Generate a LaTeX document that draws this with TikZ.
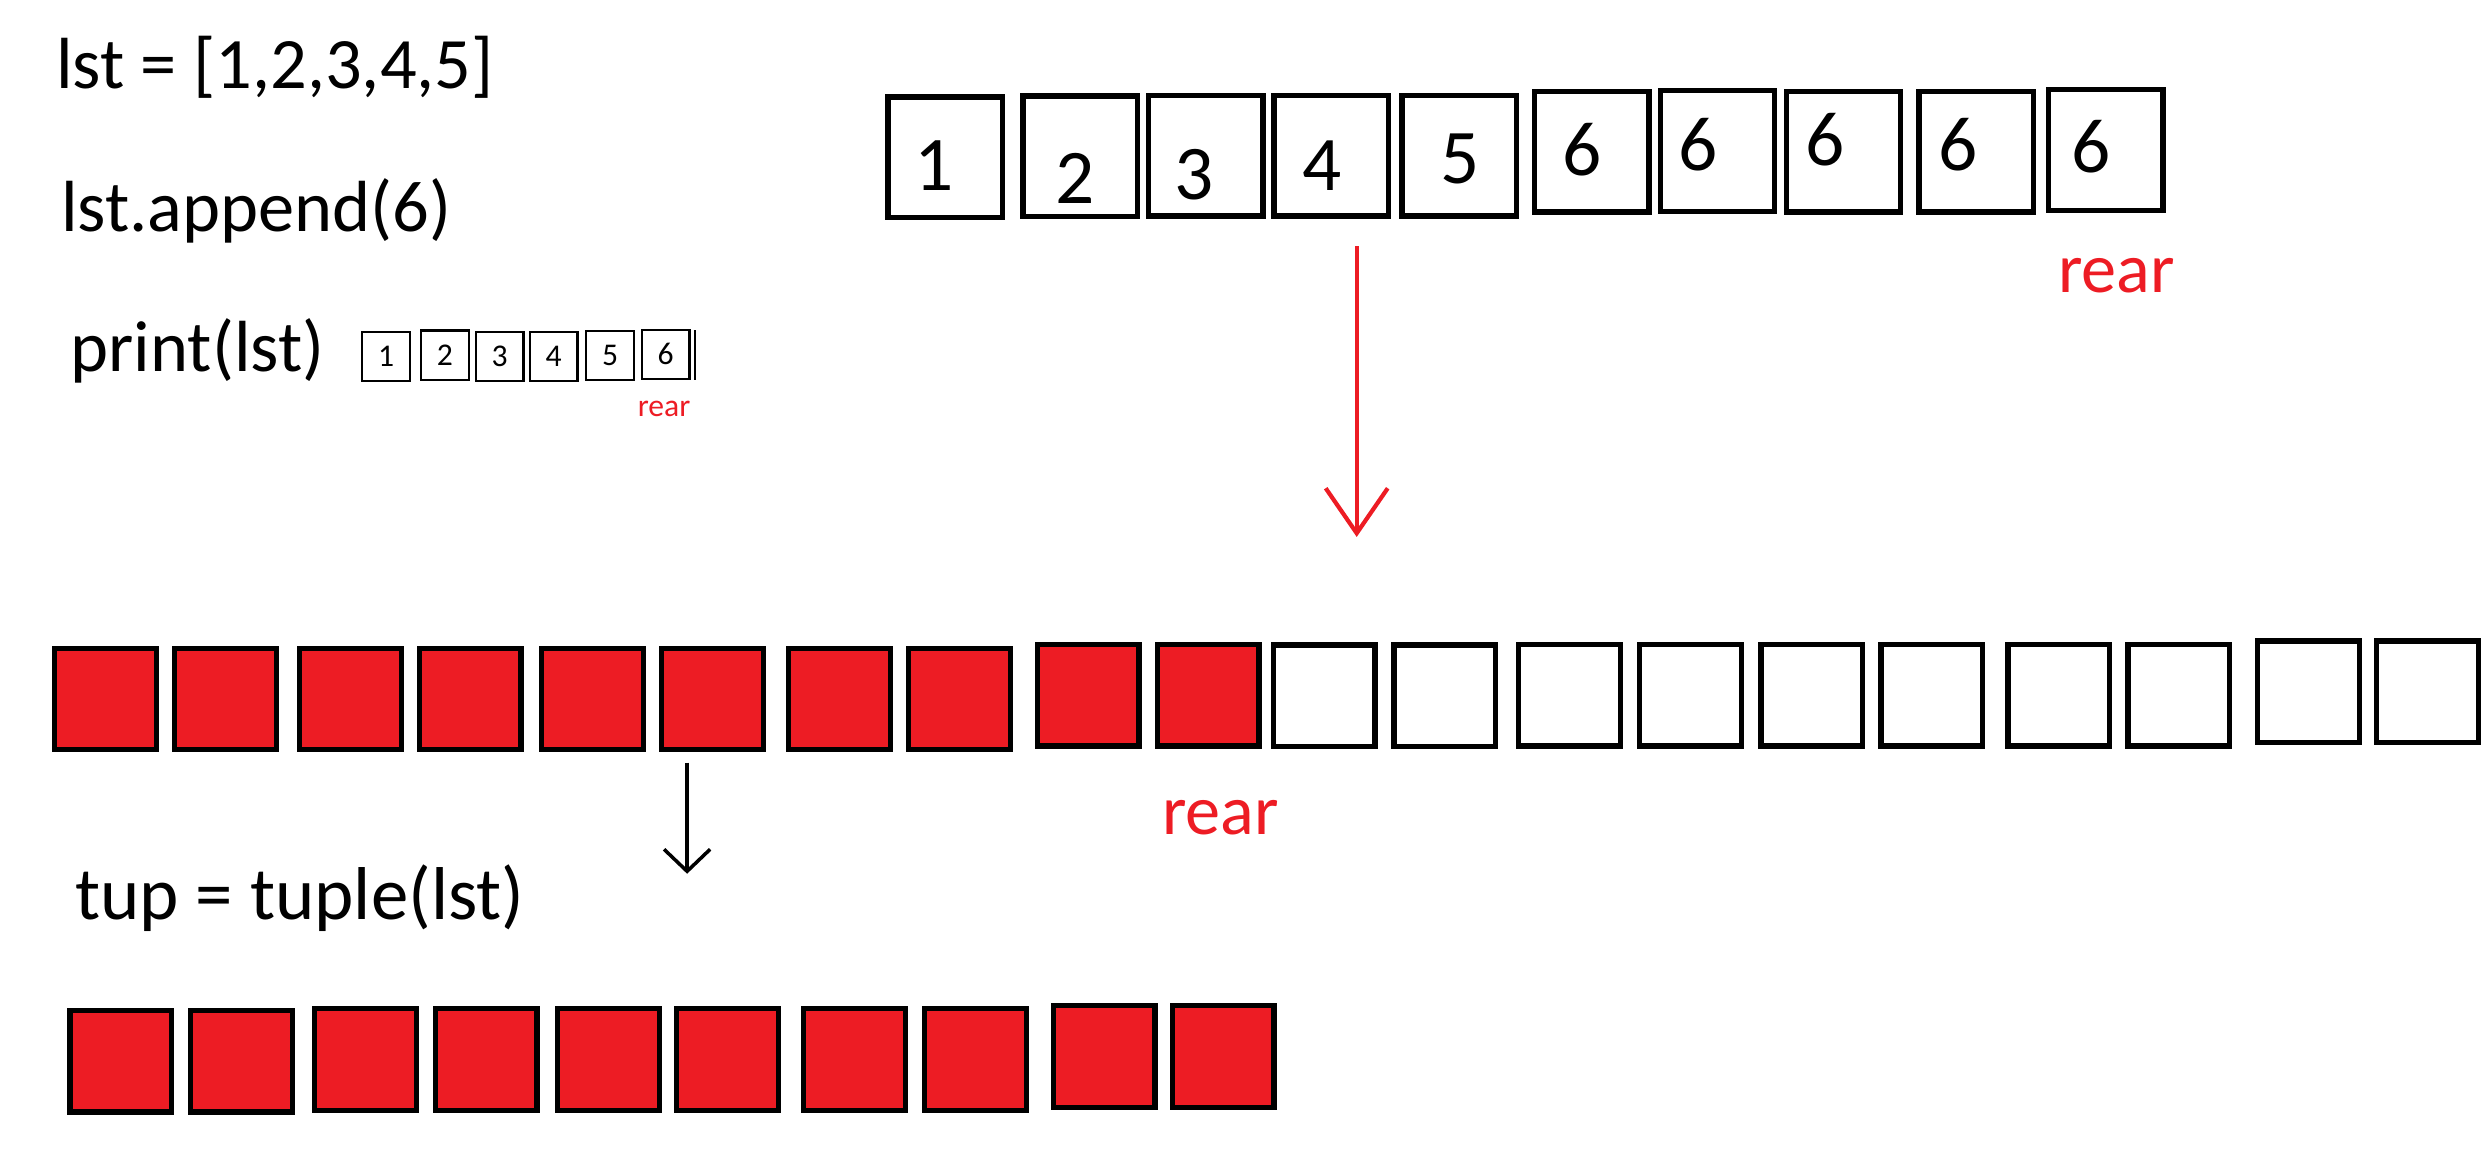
\documentclass[tikz,border=0pt]{standalone}
\usepackage{fontspec}
\setmainfont{Carlito}
\usetikzlibrary{arrows.meta}
\definecolor{paintred}{HTML}{ED1C24}

\begin{document}
\begin{tikzpicture}[
    x=0.015887cm, y=-0.015887cm,
    code/.style={anchor=base west, inner sep=0pt, font=\fontsize{20.6}{24}\selectfont},
    bigcell/.style={rectangle, draw=black, line width=1.5pt, minimum width=1.144cm,
      minimum height=1.207cm, inner sep=0pt},
    cell/.style={rectangle, draw=black, line width=1.5pt, fill=white, minimum width=1.017cm,
      minimum height=1.017cm, inner sep=0pt},
    redcell/.style={cell, fill=paintred},
    tinycell/.style={rectangle, draw=black, line width=0.6pt, minimum width=0.477cm,
      minimum height=0.49cm, inner sep=0pt, font=\fontsize{9}{10}\selectfont},
    digit/.style={inner sep=0pt, font=\fontsize{22}{24}\selectfont},
    rearlabel/.style={anchor=base west, inner sep=0pt, text=paintred, font=\fontsize{20}{22}\selectfont},
    redarrow/.style={draw=paintred, line width=1.2pt, -{Straight Barb[length=0.45cm, width=0.62cm]}},
    blackarrow/.style={draw=black, line width=1pt, -{Straight Barb[length=0.22cm, width=0.46cm]}},
  ]
  \useasboundingbox (0,0) rectangle (1568,736);

  % statements
  \node[code] (init)   at (35,56)   {lst = [1,2,3,4,5]};
  \node[code] (append) at (38,146)  {lst.append(6)};
  \node[code] (print)  at (44,234)  {print(lst)};
  \node[code, font=\fontsize{21.3}{24}\selectfont] (tuple) at (47,579) {tup = tuple(lst)};

  % printed list
  \foreach \n/\x/\y/\d in {1/243/224.5/1, 2/280/223.5/2, 3/314.5/224.5/3, 4/348.5/224.5/4,
      5/384/224/5, 6/419/223/6}
    \node[tinycell] (tiny\n) at (\x,\y) {\d};
  \draw[line width=0.6pt] (437.5,208) -- (437.5,239);
  \node[rearlabel, font=\fontsize{9}{10}\selectfont] (rear0) at (401,262) {rear};

  % list after append
  \foreach \n/\x/\y/\d/\dx/\dy in {1/595/99/1/588/104, 2/680/98.5/2/677/112.5,
      3/759/98/3/751.5/110, 4/838/98/4/832/104.5, 5/918.5/98/5/919/100,
      6/1002/95.5/6/996/94, 7/1081/95/6/1069/91, 8/1160.5/95.5/6/1149/88,
      9/1244/95.5/6/1232.5/91, 10/1325.5/94.5/6/1316/92.5} {
    \node[bigcell] (top\n) at (\x,\y) {};
    \node[digit] (d\n) at (\dx,\dy) {\d};
  }
  \node[rearlabel] (rear1) at (1295,184) {rear};

  \coordinate (grow0) at (854,155);
  \coordinate (grow1) at (854,338);
  \draw[redarrow] (grow0) -- (grow1);

  % storage after growing
  \foreach \n/\x/\y in {1/66.5/440, 2/142/440, 3/220.5/440, 4/296/440, 5/373/440,
      6/448.5/440, 7/528.5/440, 8/604/440, 9/685/437.5, 10/760.5/437.5}
    \node[redcell] (mid\n) at (\x,\y) {};
  \foreach \n/\x/\y in {11/833.5/438, 12/909.5/438, 13/988/437.5, 14/1064/437.5,
      15/1140.5/437.5, 16/1216/437.5, 17/1296/437.5, 18/1371.5/437.5,
      19/1453/435.5, 20/1528/435.5}
    \node[cell] (mid\n) at (\x,\y) {};
  \node[rearlabel] (rear2) at (731,525) {rear};

  \coordinate (conv0) at (432.5,480);
  \coordinate (conv1) at (432.5,550);
  \draw[blackarrow] (conv0) -- (conv1);

  % tuple
  \foreach \n/\x/\y in {1/76/668, 2/152/668, 3/230/667, 4/306/667, 5/383/667,
      6/458/667, 7/538/667, 8/614/667, 9/695/665, 10/770/665}
    \node[redcell] (bot\n) at (\x,\y) {};
\end{tikzpicture}
\end{document}
